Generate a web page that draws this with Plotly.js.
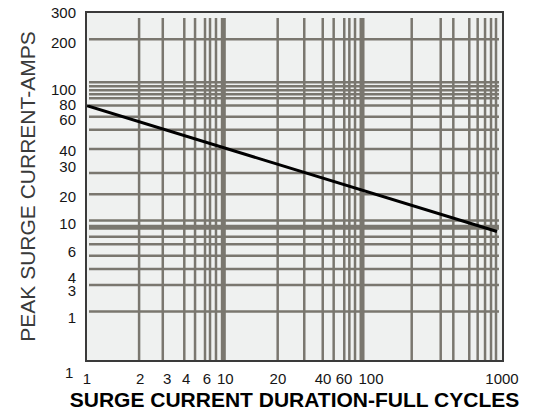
<!DOCTYPE html>
<html>
<head>
<meta charset="utf-8">
<script src="https://cdn.plot.ly/plotly-3.0.1.min.js"></script>
<style>html,body{margin:0;padding:0;background:#fff;}#chart{width:536px;height:413px;}</style>
</head>
<body>
<div id="chart"></div>
<script>
// ---- data ----
const durationCycles = [1, 10, 100, 920];
const peakAmps = [69, 34, 16.8, 8.5];

const xTickText = ['1', '2', '3', '4', '6', '10', '20', '40', '60', '100', '1000'];
const xTickPos = [1, 2.42, 3.79, 5.2, 7.37, 10, 24.0, 50.8, 72.1, 113, 1000];
const yTickText = ['1', '3', '4', '6', '10', '20', '30', '40', '60', '80', '100', '200', '300'];
const yTickPos = [2.01, 3.18, 3.95, 6.10, 9.64, 15.1, 24.9, 32.5, 54.5, 70.0, 90.6, 196.7, 323];

const gridX = [2.38, 3.53, 5.05, 6.04, 7.13, 7.75, 8.56, 23.9, 37.2, 50.6, 60.7, 72.4, 78.8, 86.6,
               222.5, 360.5, 444.7, 580, 667, 754, 833, 905];
const gridXThick = [9.67, 97.3];
const gridY = [2.24, 3.49, 4.55, 5.68, 6.87, 7.80, 10.2, 15.8, 22.5, 33.6, 46.2, 57.6, 69.2,
               78.3, 83.7, 89.4, 95.6, 102.2, 209.2];
const gridYThick = [9.12];

// ---- grid line extents (axis units) ----
const vTop = 298, vBottom = 1;
const hLeft = 1.034, hRight = 951;

function vLines(vals) {
  const xs = [], ys = [];
  vals.forEach(v => { xs.push(v, v, null); ys.push(vBottom, vTop, null); });
  return {xs, ys};
}
function hLines(vals) {
  const xs = [], ys = [];
  vals.forEach(v => { xs.push(hLeft, hRight, null); ys.push(v, v, null); });
  return {xs, ys};
}
const gridColor = '#7a776f';
const gv = vLines(gridX), gvt = vLines(gridXThick), gh = hLines(gridY), ght = hLines(gridYThick);

const traces = [
  {x: gh.xs, y: gh.ys, mode: 'lines', line: {color: gridColor, width: 2.5}, hoverinfo: 'skip', showlegend: false},
  {x: ght.xs, y: ght.ys, mode: 'lines', line: {color: gridColor, width: 5}, hoverinfo: 'skip', showlegend: false},
  {x: gv.xs, y: gv.ys, mode: 'lines', line: {color: gridColor, width: 2.5}, hoverinfo: 'skip', showlegend: false},
  {x: gvt.xs, y: gvt.ys, mode: 'lines', line: {color: gridColor, width: 5}, hoverinfo: 'skip', showlegend: false},
  {x: durationCycles, y: peakAmps, mode: 'lines', line: {color: '#000', width: 3}, showlegend: false}
];

const tickFont = {family: 'Liberation Sans, Arial, sans-serif', size: 15, color: '#151515'};

const layout = {
  width: 536, height: 413,
  margin: {l: 87, r: 34, t: 13, b: 53},
  paper_bgcolor: '#ffffff',
  plot_bgcolor: '#eff1f0',
  showlegend: false,
  xaxis: {
    type: 'log', range: [0, 3], fixedrange: true,
    tickmode: 'array', tickvals: xTickPos, ticktext: xTickText,
    ticks: '', ticklabelstandoff: 4,
    showgrid: false, zeroline: false,
    showline: true, mirror: true, linecolor: '#3a3a3a', linewidth: 2,
    tickfont: tickFont,
    title: {text: 'SURGE CURRENT DURATION-FULL CYCLES', standoff: 6,
            font: {family: 'Liberation Sans, Arial, sans-serif', size: 21, weight: 'bold', color: '#000'}}
  },
  yaxis: {
    type: 'log', range: [0, 2.51], fixedrange: true,
    tickmode: 'array', tickvals: yTickPos, ticktext: yTickText,
    ticks: '', ticklabelstandoff: 6,
    showgrid: false, zeroline: false,
    showline: true, mirror: true, linecolor: '#3a3a3a', linewidth: 2,
    tickfont: tickFont,
    title: {text: 'PEAK SURGE CURRENT-AMPS', standoff: 10,
            font: {family: 'Liberation Sans, Arial, sans-serif', size: 21, color: '#3a3a3a'}}
  },
  annotations: [
    {xref: 'paper', yref: 'paper', x: -0.03, y: -0.035, xanchor: 'right', yanchor: 'middle',
     text: '1', showarrow: false, font: tickFont}
  ]
};

Plotly.newPlot('chart', traces, layout, {displayModeBar: false, staticPlot: true});
</script>
</body>
</html>
